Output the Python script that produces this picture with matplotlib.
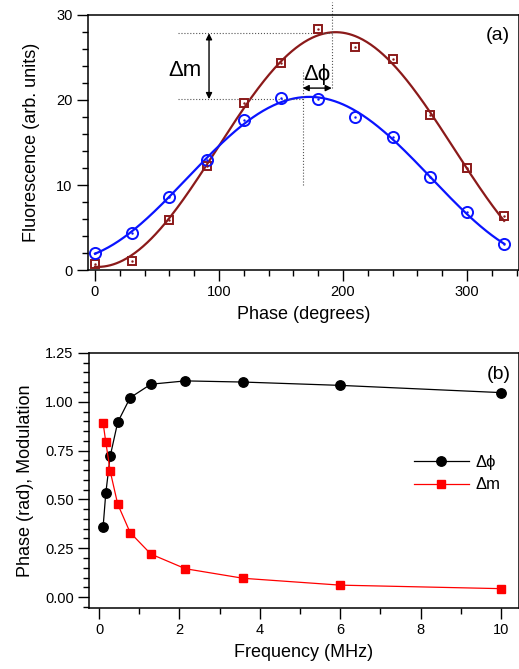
import matplotlib
matplotlib.use("Agg")
import matplotlib.pyplot as plt
import numpy as np
from matplotlib.ticker import MultipleLocator, FormatStrFormatter

plt.rcParams['font.family'] = ['Liberation Sans', 'DejaVu Sans']
plt.rcParams['mathtext.default'] = 'regular'

# ---- panel (a) data: fluorescence vs phase
phase_deg = [0, 30, 60, 90, 120, 150, 180, 210, 240, 270, 300, 330]
fluo_square = [0.7, 1.1, 5.9, 12.2, 19.7, 24.4, 28.4, 26.2, 24.8, 18.2, 12.0, 6.3]
fluo_circle = [2.0, 4.3, 8.6, 12.9, 17.6, 20.2, 20.1, 18.0, 15.7, 11.0, 6.8, 3.1]

# annotation positions (data units)
peak_square = (191, 27.85)
peak_circle = (167.5, 20.1)
dm_arrow_x = 92
dphi_arrow_y = 21.4

# ---- panel (b) data: phase shift / modulation vs frequency
freq_mhz = [0.1, 0.167, 0.278, 0.464, 0.774, 1.29, 2.15, 3.59, 6.0, 10.0]
dphi = [0.357, 0.531, 0.722, 0.895, 1.021, 1.090, 1.107, 1.101, 1.084, 1.047]
dm = [0.893, 0.794, 0.644, 0.476, 0.330, 0.220, 0.145, 0.096, 0.061, 0.043]

dark_red = '#8b1a1a'
blue = '#0a14ff'


def sine_fit(x, y):
    # least squares A + B cos(wx) + C sin(wx), grid over the period
    x = np.asarray(x, float)
    y = np.asarray(y, float)
    best = None
    for period in np.linspace(300, 520, 441):
        w = 2 * np.pi / period
        M = np.column_stack([np.ones_like(x), np.cos(w * x), np.sin(w * x)])
        coef, res, _, _ = np.linalg.lstsq(M, y, rcond=None)
        err = np.sum((M @ coef - y) ** 2)
        if best is None or err < best[0]:
            best = (err, w, coef)
    _, w, c = best
    return lambda t: c[0] + c[1] * np.cos(w * t) + c[2] * np.sin(w * t)


fig = plt.figure(figsize=(5.19, 6.69), dpi=100)
ax1 = fig.add_axes([0.1696, 0.5964, 0.8304, 0.3812])
ax2 = fig.add_axes([0.1715, 0.0912, 0.8285, 0.3812])

for ax in (ax1, ax2):
    for s in ax.spines.values():
        s.set_linewidth(1.1)
    ax.tick_params(which='both', direction='out', width=1.0, labelsize=10.5,
                   top=False, right=False)
    ax.tick_params(which='major', length=8, pad=3)
    ax.tick_params(which='minor', length=4.5)

# ---- panel (a)
xs = np.linspace(0, 330, 400)
f_sq = sine_fit(phase_deg, fluo_square)
f_ci = sine_fit(phase_deg, fluo_circle)
ax1.plot(xs, f_sq(xs), color=dark_red, lw=1.6, zorder=2)
ax1.plot(xs, f_ci(xs), color=blue, lw=1.6, zorder=2)
ax1.plot(phase_deg, fluo_square, ls='none', marker='s', ms=6.3, mfc='none',
         mec=dark_red, mew=1.4, zorder=3)
ax1.plot(phase_deg, fluo_circle, ls='none', marker='o', ms=8, mfc='none',
         mec=blue, mew=1.4, zorder=3)
ax1.plot(phase_deg, fluo_square, ls='none', marker='.', ms=1.5, color=dark_red, zorder=4)
ax1.plot(phase_deg, fluo_circle, ls='none', marker='.', ms=1.5, color=blue, zorder=4)

dot_kw = dict(color='#555555', lw=0.8, ls=':')
ax1.plot([67, peak_square[0]], [peak_square[1], peak_square[1]], **dot_kw)
ax1.plot([67, peak_circle[0]], [peak_circle[1], peak_circle[1]], **dot_kw)
ax1.plot([peak_circle[0], peak_circle[0]], [10.0, 23.5], **dot_kw)
ax1.plot([peak_square[0], peak_square[0]], [dphi_arrow_y, 31.5], clip_on=False, **dot_kw)
ax1.annotate('', xy=(dm_arrow_x, peak_square[1]), xytext=(dm_arrow_x, peak_circle[1]),
             arrowprops=dict(arrowstyle='<|-|>', color='black', lw=1.0,
                             mutation_scale=9, shrinkA=0, shrinkB=0))
ax1.annotate('', xy=(peak_circle[0], dphi_arrow_y), xytext=(peak_square[0], dphi_arrow_y),
             arrowprops=dict(arrowstyle='<|-|>', color='black', lw=1.0,
                             mutation_scale=9, shrinkA=0, shrinkB=0))
ax1.text(73, 23.5, 'Δm', fontsize=16, ha='center', va='center')
ax1.text(179, 23.0, 'Δϕ', fontsize=16, ha='center', va='center')
ax1.text(0.951, 0.918, '(a)', transform=ax1.transAxes, fontsize=14,
         ha='center', va='center')

ax1.set_xlim(-5.6, 342)
ax1.set_ylim(0, 30)
ax1.xaxis.set_major_locator(MultipleLocator(100))
ax1.xaxis.set_minor_locator(MultipleLocator(20))
ax1.yaxis.set_major_locator(MultipleLocator(10))
ax1.yaxis.set_minor_locator(MultipleLocator(2))
ax1.set_xlabel('Phase (degrees)', fontsize=13, labelpad=5)
ax1.set_ylabel('Fluorescence (arb. units)', fontsize=13, labelpad=12)

# ---- panel (b)
ax2.plot(freq_mhz, dphi, color='black', lw=0.9, marker='o', ms=6.8,
         label='Δϕ', zorder=3)
ax2.plot(freq_mhz, dm, color='#ff0000', lw=0.9, marker='s', ms=5.8,
         label='Δm', zorder=3)
ax2.legend(loc='upper left', bbox_to_anchor=(0.755, 0.60), frameon=False,
           fontsize=12, handlelength=3.3, handletextpad=0.4, labelspacing=0.45,
           borderpad=0, borderaxespad=0)
ax2.text(0.953, 0.914, '(b)', transform=ax2.transAxes, fontsize=14,
         ha='center', va='center')

ax2.set_xlim(-0.25, 10.45)
ax2.set_ylim(-0.056, 1.25)
ax2.xaxis.set_major_locator(MultipleLocator(2))
ax2.xaxis.set_minor_locator(MultipleLocator(1))
ax2.yaxis.set_major_locator(MultipleLocator(0.25))
ax2.yaxis.set_minor_locator(MultipleLocator(0.05))
ax2.yaxis.set_major_formatter(FormatStrFormatter('%.2f'))
ax2.set_xlabel('Frequency (MHz)', fontsize=13, labelpad=5)
ax2.set_ylabel('Phase (rad), Modulation', fontsize=13, labelpad=8)

fig.savefig('out.png', dpi=100)
